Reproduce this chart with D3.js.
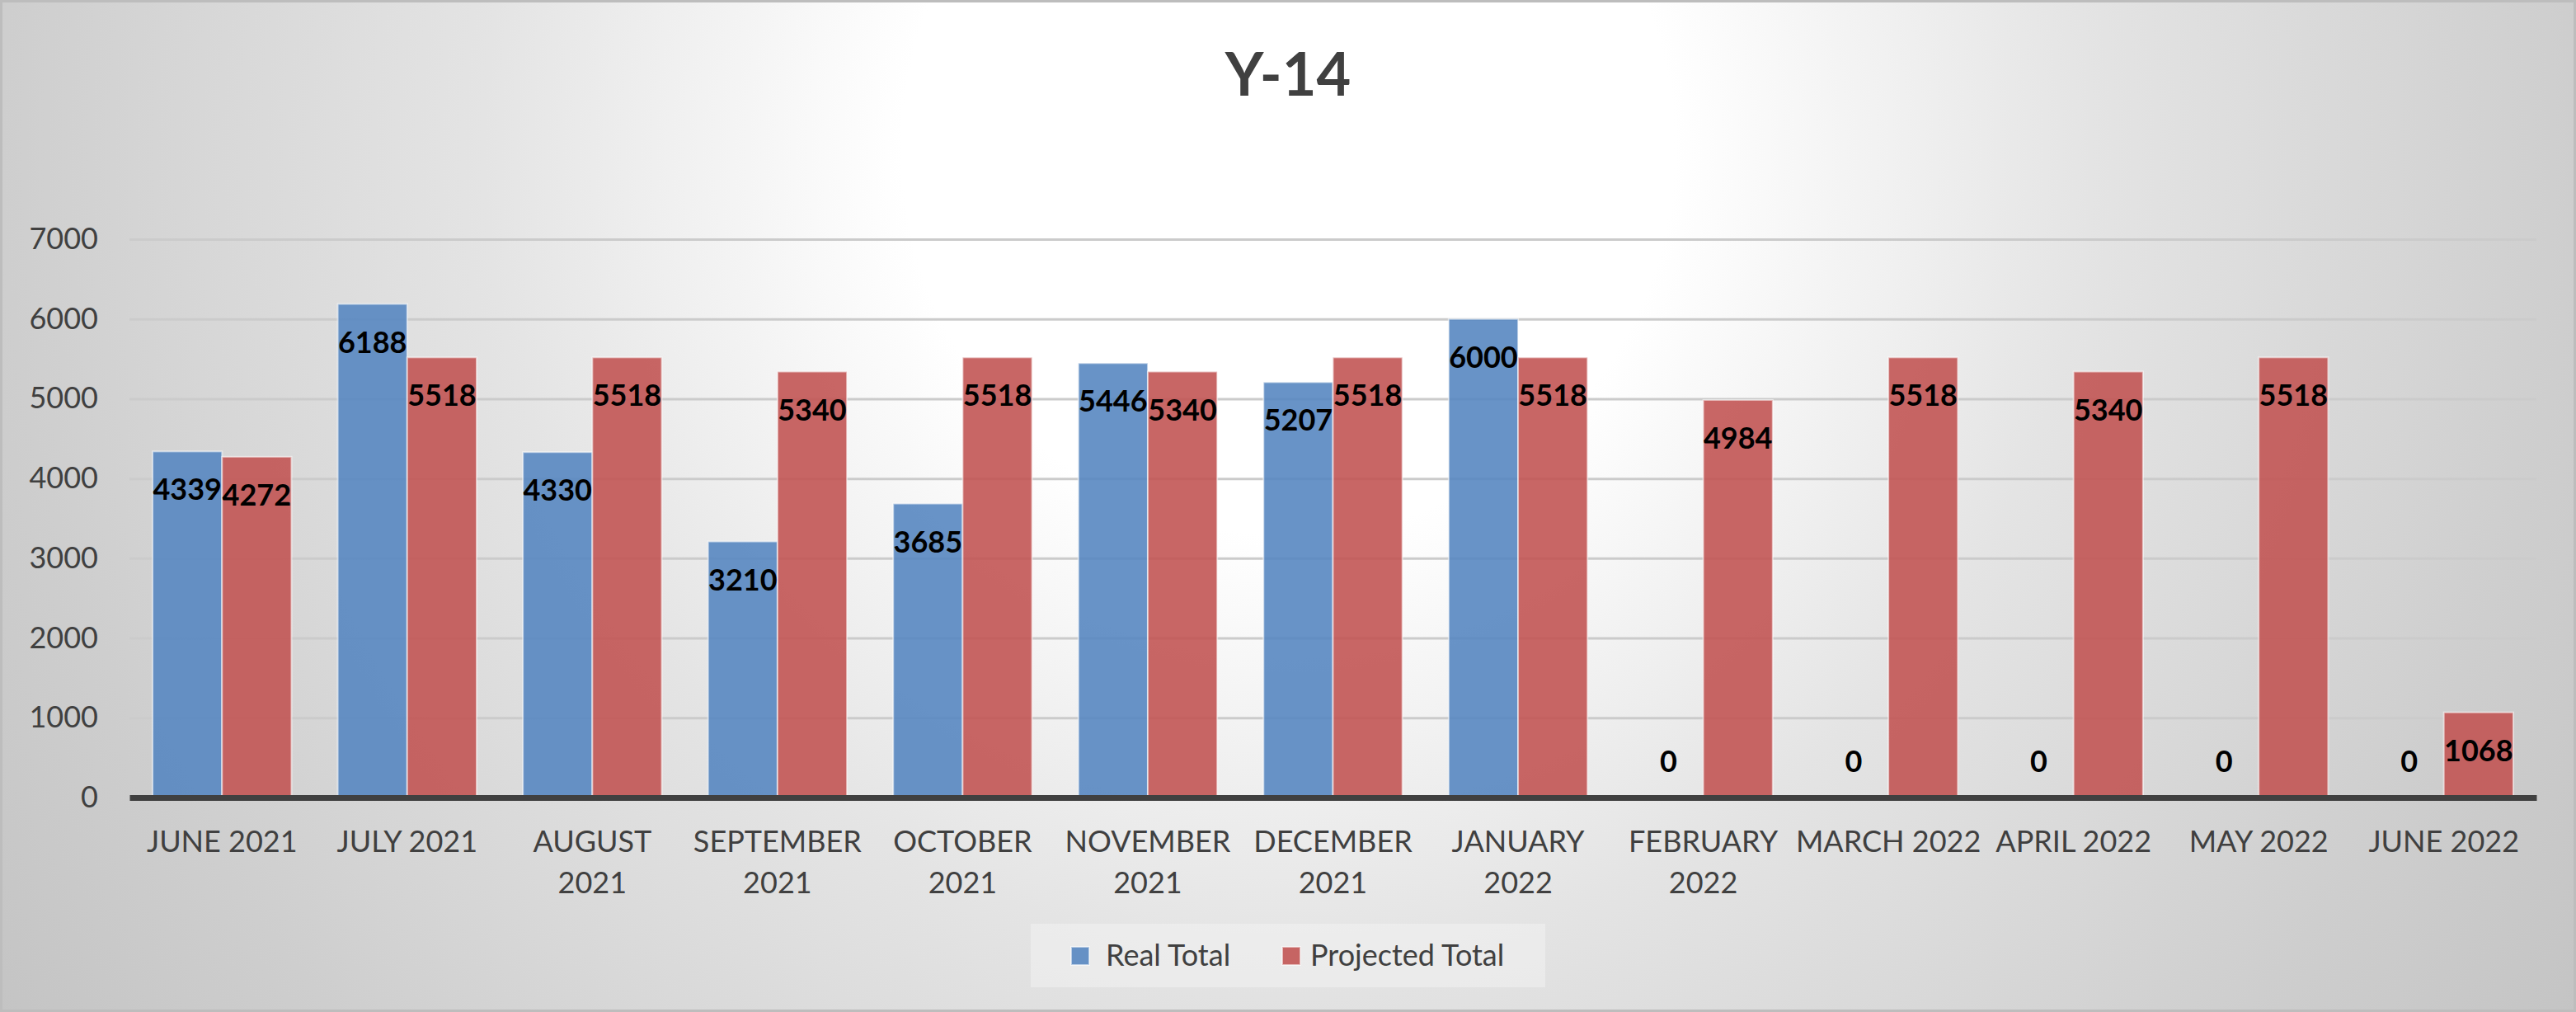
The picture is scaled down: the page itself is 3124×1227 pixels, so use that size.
<!DOCTYPE html>
<html>
<head>
<meta charset="utf-8">
<script src="https://cdn.jsdelivr.net/npm/d3@7"></script>
<style>
  html, body { margin: 0; padding: 0; background: #ffffff; }
  svg { display: block; font-family: Lato, "Open Sans", sans-serif; }
</style>
</head>
<body>
<svg id="chart" width="3124" height="1227"></svg>
<script>
// ---- data ----
const title = "Y-14";
const categories = ["JUNE 2021", "JULY 2021", "AUGUST 2021", "SEPTEMBER 2021", "OCTOBER 2021",
  "NOVEMBER 2021", "DECEMBER 2021", "JANUARY 2022", "FEBRUARY 2022", "MARCH 2022",
  "APRIL 2022", "MAY 2022", "JUNE 2022"];
const tickLabelLines = [["JUNE 2021"], ["JULY 2021"], ["AUGUST", "2021"], ["SEPTEMBER", "2021"],
  ["OCTOBER", "2021"], ["NOVEMBER", "2021"], ["DECEMBER", "2021"], ["JANUARY", "2022"],
  ["FEBRUARY", "2022"], ["MARCH 2022"], ["APRIL 2022"], ["MAY 2022"], ["JUNE 2022"]];
const seriesNames = ["Real Total", "Projected Total"];
const realTotal = [4339, 6188, 4330, 3210, 3685, 5446, 5207, 6000, 0, 0, 0, 0, 0];
const projectedTotal = [4272, 5518, 5518, 5340, 5518, 5340, 5518, 5518, 4984, 5518, 5340, 5518, 1068];
const yTicks = [0, 1000, 2000, 3000, 4000, 5000, 6000, 7000];

// ---- layout ----
const W = 3124, H = 1227;
const plot = { left: 157, right: 3076, top: 290, bottom: 967 };
const colors = { "Real Total": "#5887c1", "Projected Total": "#c25554" };
const textColor = "#404040";

const svg = d3.select("#chart");
const defs = svg.append("defs");

const bg = defs.append("radialGradient").attr("id", "bg")
  .attr("gradientUnits", "userSpaceOnUse")
  .attr("cx", 1562).attr("cy", 180).attr("r", 1950);
bg.append("stop").attr("offset", 0).attr("stop-color", "#ffffff");
bg.append("stop").attr("offset", 0.24).attr("stop-color", "#ffffff");
bg.append("stop").attr("offset", 0.5).attr("stop-color", "#e4e4e4");
bg.append("stop").attr("offset", 0.8).attr("stop-color", "#cecece");
bg.append("stop").attr("offset", 1).attr("stop-color", "#c2c2c2");

const gridGrad = defs.append("linearGradient").attr("id", "gridGrad")
  .attr("gradientUnits", "userSpaceOnUse")
  .attr("x1", 0).attr("y1", plot.top).attr("x2", 0).attr("y2", plot.bottom);
gridGrad.append("stop").attr("offset", 0).attr("stop-color", "#cbcbcb");
gridGrad.append("stop").attr("offset", 0.4).attr("stop-color", "#a2a2a2");
gridGrad.append("stop").attr("offset", 1).attr("stop-color", "#7e7e7e");

svg.append("rect").attr("x", 0).attr("y", 0).attr("width", W).attr("height", H)
  .attr("fill", "url(#bg)");
svg.append("rect").attr("x", 1.5).attr("y", 1.5).attr("width", W - 3).attr("height", H - 3)
  .attr("fill", "none").attr("stroke", "#bdbdbd").attr("stroke-width", 3);

// ---- title ----
svg.append("text").attr("x", 1562).attr("y", 116)
  .attr("text-anchor", "middle").attr("font-size", 72).attr("font-weight", 700)
  .attr("fill", textColor).text(title);

// ---- scales ----
const x0 = d3.scaleBand().domain(categories).range([plot.left, plot.right])
  .paddingInner(0.25).paddingOuter(0.125);
const x1 = d3.scaleBand().domain(seriesNames).range([0, x0.bandwidth()]).padding(0);
const y = d3.scaleLinear().domain([0, 7000]).range([plot.bottom, plot.top]);

// ---- y axis + gridlines ----
const yAxis = svg.append("g").attr("transform", `translate(${plot.left},0)`)
  .call(d3.axisLeft(y).tickValues(yTicks).tickFormat(d3.format("d"))
    .tickSize(-(plot.right - plot.left)).tickPadding(38));
yAxis.select(".domain").remove();
yAxis.selectAll(".tick line").attr("stroke", "url(#gridGrad)").attr("stroke-width", 3);
yAxis.selectAll(".tick text").attr("font-size", 36).attr("fill", textColor)
  .attr("font-family", "Lato, 'Open Sans', sans-serif");

// ---- bars ----
const rows = categories.map((c, i) => ({ cat: c, values: [
  { key: "Real Total", value: realTotal[i] },
  { key: "Projected Total", value: projectedTotal[i] }
]}));

const groups = svg.append("g").selectAll("g").data(rows).join("g")
  .attr("transform", d => `translate(${x0(d.cat)},0)`);

groups.selectAll("rect").data(d => d.values).join("rect")
  .attr("x", d => x1(d.key))
  .attr("y", d => y(d.value))
  .attr("width", x1.bandwidth())
  .attr("height", d => y(0) - y(d.value))
  .attr("fill", d => colors[d.key])
  .attr("fill-opacity", 0.9)
  .attr("stroke", "rgba(255,255,255,0.55)")
  .attr("stroke-width", 2);

// ---- x axis ----
const xAxis = svg.append("g").attr("transform", `translate(0,${plot.bottom})`)
  .call(d3.axisBottom(x0).tickSize(0).tickSizeOuter(0));
xAxis.select(".domain").attr("stroke", "#404040").attr("stroke-width", 7);
xAxis.selectAll(".tick text").each(function(d, i) {
  const t = d3.select(this);
  t.text(null).attr("y", null).attr("dy", null)
    .attr("font-size", 36).attr("fill", textColor)
    .attr("font-family", "Lato, 'Open Sans', sans-serif");
  tickLabelLines[i].forEach((line, j) => {
    t.append("tspan").attr("x", 0).attr("y", 66 + j * 50).text(line);
  });
});

// ---- value labels ----
groups.selectAll("text.val").data(d => d.values).join("text")
  .attr("class", "val")
  .attr("x", d => x1(d.key) + x1.bandwidth() / 2)
  .attr("y", d => d.value === 0 ? y(0) - 31 : y(d.value) + 59)
  .attr("text-anchor", "middle")
  .attr("font-size", 36).attr("font-weight", 700).attr("fill", "#000000")
  .text(d => d.value);

// ---- legend ----
const legend = svg.append("g");
legend.append("rect").attr("x", 1250).attr("y", 1120).attr("width", 624).attr("height", 77)
  .attr("fill", "#f2f2f2").attr("fill-opacity", 0.55);
const legendItems = [
  { key: "Real Total", sx: 1299, tx: 1341 },
  { key: "Projected Total", sx: 1555, tx: 1589 }
];
legendItems.forEach(it => {
  legend.append("rect").attr("x", it.sx).attr("y", 1148).attr("width", 22).attr("height", 22)
    .attr("fill", colors[it.key]).attr("fill-opacity", 0.9)
    .attr("stroke", "rgba(255,255,255,0.55)").attr("stroke-width", 2);
  legend.append("text").attr("x", it.tx).attr("y", 1171)
    .attr("font-size", 36).attr("fill", textColor).text(it.key);
});
</script>
</body>
</html>
